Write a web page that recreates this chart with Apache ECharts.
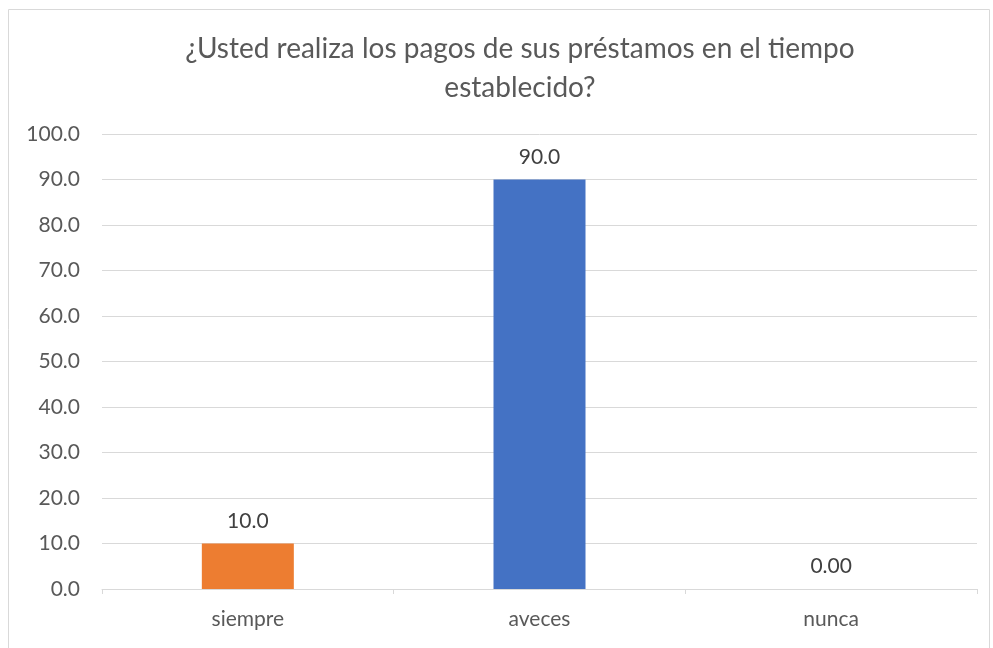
<!DOCTYPE html>
<html>
<head>
    <meta charset="utf-8">
    <title>Pagos de préstamos</title>
    <script src="https://cdn.jsdelivr.net/npm/echarts@6/dist/echarts.min.js"></script>
    <style>
        body { margin: 0; background: #fff; }
    </style>
</head>
<body>
    <div id="main" style="width: 993px;height:648px;"></div>
    <script type="text/javascript">
        // datos
        var categorias = ['siempre', 'aveces', 'nunca'];
        var valores = [10, 90, 0];
        var etiquetas = ['10.0', '90.0', '0.00'];
        var colores = ['#ED7D31', '#4472C4', '#A5A5A5'];
        var ticksY = [0, 10, 20, 30, 40, 50, 60, 70, 80, 90, 100];

        var myChart = echarts.init(document.getElementById('main'));
        var fuente = 'Lato, "Open Sans", sans-serif';

        var option = {
          animation: false,
          textStyle: { fontFamily: fuente },
          title: {
            text: '¿Usted realiza los pagos de sus préstamos en el tiempo\nestablecido?',
            left: 515,
            textAlign: 'center',
            top: 24,
            textStyle: {
              fontFamily: fuente,
              fontWeight: 'normal',
              fontSize: 28,
              lineHeight: 39,
              color: '#595959'
            }
          },
          graphic: [{
            type: 'rect',
            shape: { x: 8.5, y: 9.5, width: 981, height: 660 },
            style: { fill: 'none', stroke: '#d9d9d9', lineWidth: 1 },
            silent: true
          }],
          grid: { left: 102, right: 16, top: 134, bottom: 59 },
          xAxis: {
            type: 'category',
            data: categorias,
            axisLine: { lineStyle: { color: '#d9d9d9' } },
            axisTick: { show: true, length: 5, lineStyle: { color: '#d9d9d9' } },
            axisLabel: { color: '#595959', fontSize: 21, margin: 20, fontFamily: fuente }
          },
          yAxis: {
            type: 'value',
            min: ticksY[0],
            max: ticksY[ticksY.length - 1],
            interval: 10,
            axisLine: { show: false },
            axisTick: { show: false },
            splitLine: { lineStyle: { color: '#d9d9d9' } },
            axisLabel: {
              color: '#595959',
              fontSize: 21,
              margin: 22,
              fontFamily: fuente,
              formatter: function (v) { return v.toFixed(1); }
            }
          },
          series: [{
            type: 'bar',
            barWidth: 92,
            data: valores.map(function (v, i) {
              return { value: v, itemStyle: { color: colores[i] } };
            }),
            label: {
              show: true,
              position: 'top',
              distance: 12,
              color: '#404040',
              fontSize: 21,
              fontFamily: fuente,
              formatter: function (p) { return etiquetas[p.dataIndex]; }
            }
          }]
        };
        myChart.setOption(option);
    </script>
</body>
</html>
